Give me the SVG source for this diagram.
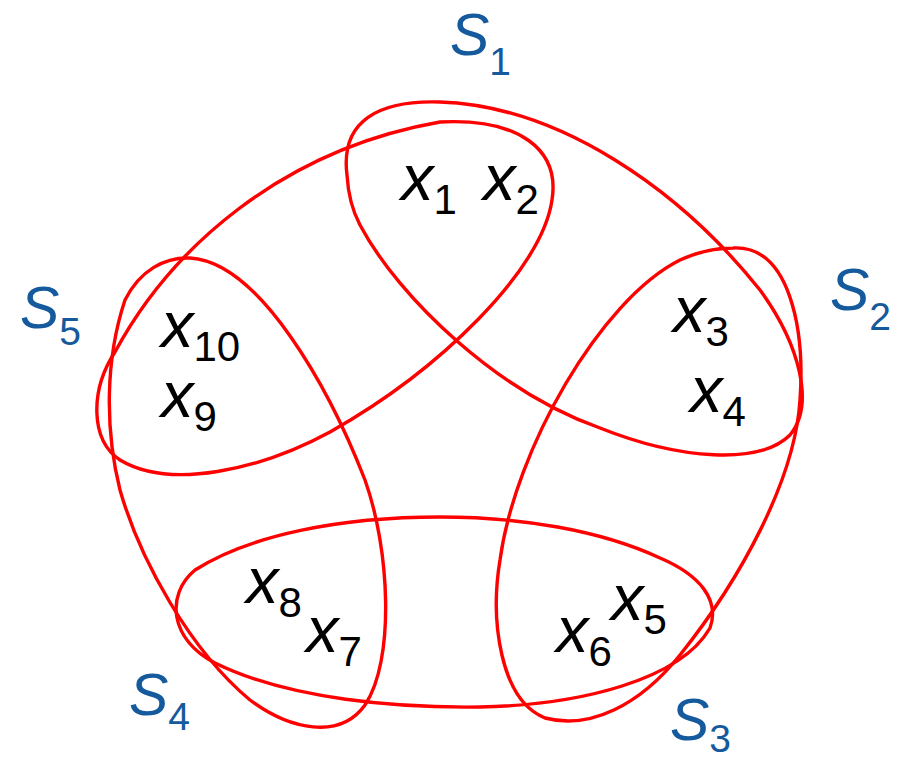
<svg xmlns="http://www.w3.org/2000/svg" width="903" height="762" viewBox="0 0 903 762">
<style>
.set{fill:none;stroke:#ff0000;stroke-width:3.4;stroke-linejoin:round}
.el{font-family:"Liberation Sans",Arial,sans-serif;font-size:65px;font-style:italic;fill:#000}
.el tspan{font-size:42px;font-style:normal}
.lab{font-family:"Liberation Sans",Arial,sans-serif;font-size:59px;font-style:italic;fill:#155a9c}
.lab tspan{font-size:39px;font-style:normal}
</style>
<rect width="903" height="762" fill="#fff"/>
<g id="sets">
<g id="S1">
<path class="set" d="M347,175 C340,120 380,100 440,102 C560,106 680,190 760,290 C800,345 815,405 790,435 C760,465 680,460 600,428 C500,393 400,300 360,225 C352,210 348,192 347,175 Z"/>
<text class="lab" x="450" y="55">S<tspan dy="20">1</tspan></text>
</g>
<g id="S2">
<path class="set" d="M733,248 C790,245 805,330 800,400 C795,480 740,580 680,655 C640,705 590,730 545,718 C500,700 490,620 500,560 C515,450 600,300 680,260 C700,251 715,248 733,248 Z"/>
<text class="lab" x="830" y="310">S<tspan dy="20">2</tspan></text>
</g>
<g id="S3">
<path class="set" d="M440,517 C340,517 250,535 195,570 C165,595 170,640 215,663 C290,700 400,708 480,707 C580,705 680,680 710,628 C720,600 700,575 660,558 C600,530 520,517 440,517 Z"/>
<text class="lab" x="670" y="740">S<tspan dy="12">3</tspan></text>
</g>
<g id="S4">
<path class="set" d="M190,258 C260,262 330,390 365,480 C390,550 395,660 365,705 C340,740 290,730 250,700 C190,650 140,560 120,490 C105,430 105,360 125,300 C140,270 165,257 190,258 Z"/>
<text class="lab" x="129" y="715">S<tspan dy="15">4</tspan></text>
</g>
<g id="S5">
<path class="set" d="M440,122 C520,118 560,150 552,200 C542,270 440,370 330,432 C260,470 170,490 120,460 C90,440 90,390 115,352 C170,250 280,150 440,122 Z"/>
<text class="lab" x="20" y="328">S<tspan dy="17">5</tspan></text>
</g>
</g>
<g id="connectors"></g>
<g id="elements">
<g id="x1"><text class="el" x="401" y="200">x<tspan dy="14">1</tspan></text></g>
<g id="x2"><text class="el" x="483" y="200">x<tspan dy="14">2</tspan></text></g>
<g id="x3"><text class="el" x="673" y="332">x<tspan dy="14">3</tspan></text></g>
<g id="x4"><text class="el" x="690" y="412">x<tspan dy="14">4</tspan></text></g>
<g id="x5"><text class="el" x="611" y="620">x<tspan dy="14">5</tspan></text></g>
<g id="x6"><text class="el" x="556" y="652">x<tspan dy="14">6</tspan></text></g>
<g id="x7"><text class="el" x="306" y="652">x<tspan dy="14">7</tspan></text></g>
<g id="x8"><text class="el" x="246" y="603">x<tspan dy="14">8</tspan></text></g>
<g id="x9"><text class="el" x="161" y="417">x<tspan dy="14">9</tspan></text></g>
<g id="x10"><text class="el" x="161" y="347">x<tspan dy="14">10</tspan></text></g>
</g>
</svg>
